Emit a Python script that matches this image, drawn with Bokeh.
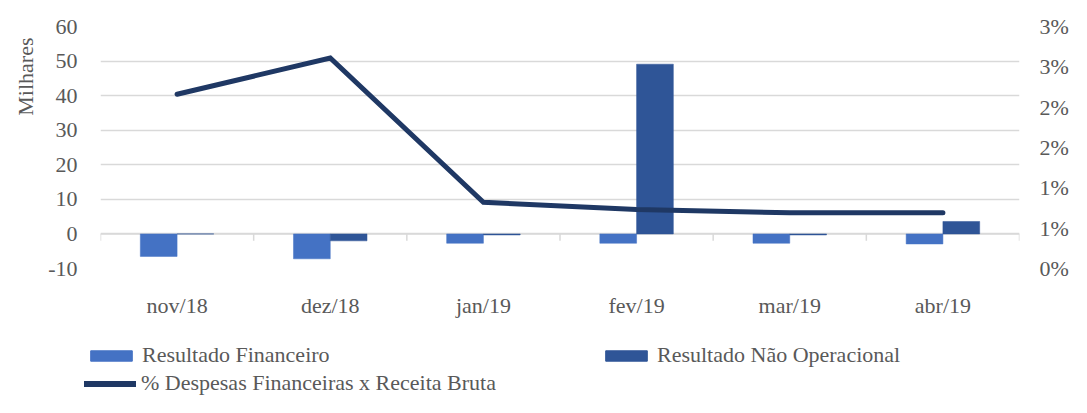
from bokeh.plotting import figure
from bokeh.layouts import column
from bokeh.models import (Range1d, LinearAxis, FixedTicker, Legend, LegendItem, Title)
from bokeh.embed import file_html
from bokeh.resources import INLINE

categories = ["nov/18", "dez/18", "jan/19", "fev/19", "mar/19", "abr/19"]
resultado_financeiro = [-6.5, -7.2, -2.7, -2.7, -2.7, -2.9]
resultado_nao_operacional = [0.0, -2.0, -0.3, 49.1, -0.3, 3.6]
pct_despesas = [0.0216, 0.0261, 0.0082, 0.0073, 0.0069, 0.0069]

left_ticks = [-10, 0, 10, 20, 30, 40, 50, 60]
left_labels = ["-10", "0", "10", "20", "30", "40", "50", "60"]
right_ticks = [0.0, 0.005, 0.010, 0.015, 0.020, 0.025, 0.030]
right_labels = ["0%", "1%", "1%", "2%", "2%", "3%", "3%"]

FONT = "Liberation Serif"
TXT = "#595959"
GRID = "#d9d9d9"
C_FIN = "#4472C4"
C_NOP = "#2F5597"
C_LINE = "#1F3864"
FS = "22px"

W = 1071
H_MAIN = 320
H_LEG = 77
NAN = float("nan")

n = len(categories)
centers = [i + 0.5 for i in range(n)]
bounds = list(range(n + 1))
bw = 0.24

p = figure(width=W, height=H_MAIN, output_backend="svg", toolbar_location=None,
           x_range=Range1d(0, n), y_range=Range1d(left_ticks[0], left_ticks[-1]),
           min_border_left=100, min_border_right=50, min_border_top=26,
           min_border_bottom=H_MAIN - 270)
p.frame_align = False
p.outline_line_color = None
p.background_fill_color = "white"
p.border_fill_color = "white"

p.extra_y_ranges = {"pct": Range1d(right_ticks[0], right_ticks[-1])}

# grid
p.xgrid.grid_line_color = None
p.ygrid.grid_line_color = GRID
p.ygrid.grid_line_width = 1.5
p.ygrid.ticker = FixedTicker(ticks=left_ticks)


def style_axis(ax, standoff):
    ax.axis_line_color = None
    ax.major_tick_line_color = None
    ax.minor_tick_line_color = None
    ax.major_tick_out = 0
    ax.major_tick_in = 0
    ax.minor_tick_out = 0
    ax.major_label_standoff = standoff
    ax.major_label_text_font = FONT
    ax.major_label_text_font_size = FS
    ax.major_label_text_color = TXT


# x axis
xa = p.xaxis[0]
xa.ticker = FixedTicker(ticks=centers)
xa.major_label_overrides = {c: lab for c, lab in zip(centers, categories)}
style_axis(xa, 24)

# left axis
ya = p.yaxis[0]
ya.ticker = FixedTicker(ticks=left_ticks)
ya.major_label_overrides = {t: lab for t, lab in zip(left_ticks, left_labels)}
style_axis(ya, 23)

# right axis
ra = LinearAxis(y_range_name="pct", ticker=FixedTicker(ticks=right_ticks))
ra.major_label_overrides = {t: lab for t, lab in zip(right_ticks, right_labels)}
style_axis(ra, 20)
p.add_layout(ra, "right")

# y axis title, placed near the top like the reference
p.add_layout(Title(text="Milhares", align="right", offset=11, text_font=FONT,
                   text_font_size=FS, text_font_style="normal", text_color=TXT,
                   standoff=16), "left")

# zero line with category tick marks
p.segment(x0=[bounds[0]], y0=[0], x1=[bounds[-1]], y1=[0], line_color=GRID, line_width=1.5)
p.segment(x0=bounds, y0=[0] * len(bounds), x1=bounds, y1=[-2] * len(bounds),
          line_color=GRID, line_width=1.5)

p.vbar(x=[c - bw / 2 for c in centers], top=resultado_financeiro, bottom=0, width=bw,
       fill_color=C_FIN, line_color=C_FIN, line_width=0.5)
p.vbar(x=[c + bw / 2 for c in centers], top=resultado_nao_operacional, bottom=0, width=bw,
       fill_color=C_NOP, line_color=C_NOP, line_width=0.5)
p.line(x=centers, y=pct_despesas, y_range_name="pct", line_color=C_LINE,
       line_width=5, line_cap="round", line_join="miter")

# ---- legend strip ----
lf = figure(width=W, height=H_LEG, output_backend="svg", toolbar_location=None,
            x_range=Range1d(0, 1), y_range=Range1d(0, 1),
            x_axis_location=None, y_axis_location=None, min_border=0)
lf.frame_align = False
lf.outline_line_color = None
lf.grid.grid_line_color = None
lf.background_fill_color = "white"
lf.border_fill_color = "white"

d_fin = lf.vbar(x=[NAN], top=[NAN], width=0.1, fill_color=C_FIN, line_color=C_FIN)
d_nop = lf.vbar(x=[NAN], top=[NAN], width=0.1, fill_color=C_NOP, line_color=C_NOP)
d_line = lf.line(x=[NAN, NAN], y=[NAN, NAN], line_color=C_LINE, line_width=6, line_cap="round")


def mk_legend(label, r, loc):
    return Legend(items=[LegendItem(label=label, renderers=[r])], location=loc,
                  orientation="horizontal", glyph_width=52, glyph_height=13,
                  label_standoff=5, padding=0, margin=0, border_line_color=None,
                  background_fill_alpha=0, label_text_font=FONT,
                  label_text_font_size=FS, label_text_color=TXT)


lf.add_layout(mk_legend("Resultado Financeiro", d_fin, (85, 29)))
lf.add_layout(mk_legend("Resultado Não Operacional", d_nop, (600, 29)))
lf.add_layout(mk_legend("% Despesas Financeiras x Receita Bruta", d_line, (84, 1)))

layout = column(p, lf, spacing=0)
open("out.html", "w").write(file_html(layout, INLINE))
